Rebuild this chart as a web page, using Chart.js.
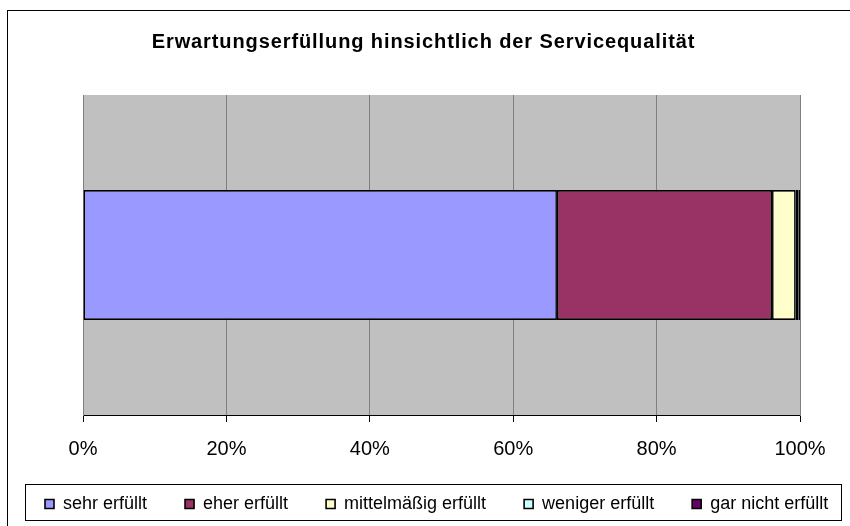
<!DOCTYPE html>
<html>
<head>
<meta charset="utf-8">
<script src="https://cdn.jsdelivr.net/npm/chart.js@4/dist/chart.umd.min.js"></script>
<style>
html,body{margin:0;padding:0;background:#fff;}
#wrap{width:850px;height:526px;position:relative;}
</style>
</head>
<body>
<div id="wrap"><canvas id="c" width="850" height="526"></canvas></div>
<script>
const chartTitle = 'Erwartungserfüllung hinsichtlich der Servicequalität';
const categories = [''];
const seriesNames = ['sehr erfüllt', 'eher erfüllt', 'mittelmäßig erfüllt', 'weniger erfüllt', 'gar nicht erfüllt'];
const sehrErfuellt = [66.1];
const eherErfuellt = [30.0];
const mittelErfuellt = [3.3];
const wenigerErfuellt = [0.4];
const garNichtErfuellt = [0.2];
const seriesValues = [sehrErfuellt, eherErfuellt, mittelErfuellt, wenigerErfuellt, garNichtErfuellt];
const seriesColors = ['#9999FF', '#993366', '#FFFFCC', '#CCFFFF', '#660066'];
const tickValues = [0, 20, 40, 60, 80, 100];

const FONT = '"Liberation Sans", Arial, sans-serif';
const TITLE_CENTER_X = 423.5;

const plotBg = {
  id: 'plotBg',
  afterInit(chart) {
    const tb = chart.titleBlock;
    if (tb && !tb._spaced) {
      const orig = tb.draw;
      tb.draw = function () {
        const ctx = this.ctx;
        ctx.save();
        ctx.letterSpacing = '0.9px';
        ctx.translate(TITLE_CENTER_X - (this.left + this.right) / 2, 0);
        orig.apply(this, arguments);
        ctx.restore();
      };
      tb._spaced = true;
    }
  },
  beforeDraw(chart) {
    const {ctx, chartArea: a} = chart;
    ctx.save();
    ctx.fillStyle = '#C0C0C0';
    ctx.fillRect(a.left, a.top, a.right - a.left, a.bottom - a.top);
    ctx.restore();
  },
  afterDraw(chart) {
    const ctx = chart.ctx;
    ctx.save();
    ctx.strokeStyle = '#000';
    ctx.lineWidth = 1;
    ctx.strokeRect(7.5, 10.5, 860, 560);
    ctx.strokeRect(25.5, 484.5, 816, 36);
    ctx.restore();
  }
};

const chart = new Chart(document.getElementById('c'), {
  type: 'bar',
  data: {
    labels: categories,
    datasets: seriesNames.map((n, i) => ({
      label: n,
      data: seriesValues[i],
      backgroundColor: seriesColors[i],
      borderColor: '#000',
      borderWidth: 1.6,
      borderSkipped: false,
      categoryPercentage: 1,
      barPercentage: 0.406
    }))
  },
  options: {
    indexAxis: 'y',
    responsive: false,
    animation: false,
    layout: {padding: {top: 12, left: 7, right: -24, bottom: 3}},
    plugins: {
      title: {
        display: true,
        text: chartTitle,
        color: '#000',
        font: {family: FONT, size: 20, weight: 'bold'},
        padding: {top: 18, bottom: 41}
      },
      legend: {
        position: 'bottom',
        align: 'start',
        maxHeight: 69,
        labels: {
          color: '#000',
          font: {family: FONT, size: 18},
          boxWidth: 9,
          boxHeight: 9,
          padding: 38
        }
      },
      tooltip: {enabled: false}
    },
    scales: {
      x: {
        stacked: true,
        min: 0,
        max: 100,
        afterBuildTicks(scale) { scale.ticks = tickValues.map(v => ({value: v})); },
        ticks: {
          color: '#000',
          font: {family: FONT, size: 20},
          padding: 15,
          callback: v => v + '%'
        },
        grid: {color: '#808080', lineWidth: 1, tickColor: '#000', tickLength: 7},
        border: {color: '#000', width: 1},
        afterFit(scale) { scale.height = 42; }
      },
      y: {
        stacked: true,
        grid: {display: false},
        ticks: {display: false},
        border: {color: '#808080', width: 1},
        afterFit(scale) { scale.width = 76; }
      },
      y2: {
        type: 'linear',
        position: 'right',
        grid: {display: false},
        ticks: {display: false},
        border: {color: '#808080', width: 1},
        afterFit(scale) { scale.width = 74; }
      }
    }
  },
  plugins: [plotBg]
});
</script>
</body>
</html>
